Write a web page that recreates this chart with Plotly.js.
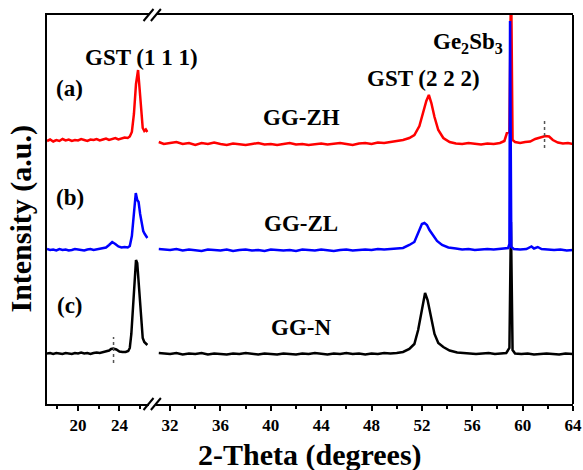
<!DOCTYPE html>
<html>
<head>
<meta charset="utf-8">
<script src="https://cdn.plot.ly/plotly-3.0.1.min.js"></script>
<style>html,body{margin:0;padding:0;background:#fff;}#chart{width:583px;height:470px;}</style>
</head>
<body>
<div id="chart"></div>
<script>
// ---------- DATA (2-theta in degrees, intensity in arbitrary units) ----------
// GG-ZH (a), red
const redLX = [17.0,17.3,17.6,17.9,18.2,18.5,18.8,19.1,19.4,19.7,20.0,20.3,20.6,20.9,21.2,21.5,21.8,22.1,22.4,22.7,23.0,23.3,23.6,23.9,24.2,24.5,24.8,25.0,25.2,25.4,25.6,25.8,25.95,26.1,26.25,26.4,26.55,26.7];
const redLY = [2630,2645,2625,2640,2630,2650,2635,2645,2630,2640,2635,2650,2640,2630,2645,2640,2650,2635,2645,2655,2640,2650,2660,2645,2655,2665,2660,2675,2720,2900,3200,3340,3150,2900,2760,2730,2745,2720];
const redRX = [31.1,31.5,32.0,32.5,33.0,33.5,34.0,34.5,35.0,35.5,36.0,36.5,37.0,37.5,38.0,38.5,39.0,39.5,40.0,40.5,41.0,41.5,42.0,42.5,43.0,43.5,44.0,44.5,45.0,45.5,46.0,46.5,47.0,47.5,48.0,48.5,49.0,49.5,50.0,50.5,51.0,51.4,51.8,52.1,52.35,52.55,52.75,53.0,53.3,53.7,54.2,54.7,55.2,55.7,56.2,56.7,57.2,57.7,58.2,58.55,58.75,58.95,59.08,59.2,59.4,59.8,60.2,60.6,61.0,61.4,61.8,62.1,62.4,62.8,63.2,63.6,64.0];
const redRY = [2620,2600,2610,2620,2600,2610,2590,2610,2600,2615,2600,2590,2605,2600,2590,2600,2610,2595,2600,2590,2600,2610,2595,2600,2590,2600,2605,2595,2600,2610,2600,2590,2605,2610,2600,2615,2610,2620,2625,2640,2660,2690,2780,2930,3030,3090,3010,2870,2740,2660,2620,2605,2600,2610,2600,2595,2605,2600,2610,2630,2710,2720,4300,2640,2620,2610,2620,2625,2650,2665,2680,2675,2640,2615,2605,2610,2600];

// GG-ZL (b), blue
const blueLX = [17.0,17.3,17.6,17.9,18.2,18.5,18.8,19.1,19.4,19.7,20.0,20.3,20.6,20.9,21.2,21.5,21.8,22.1,22.4,22.7,23.0,23.3,23.6,23.9,24.2,24.5,24.8,25.0,25.2,25.4,25.58,25.72,25.85,26.0,26.15,26.3,26.45,26.6,26.7];
const blueLY = [1550,1540,1545,1535,1550,1540,1545,1535,1540,1550,1545,1540,1535,1545,1550,1540,1545,1550,1555,1565,1590,1620,1600,1575,1565,1570,1565,1580,1680,1920,2110,2040,2020,1900,1790,1730,1700,1670,1660];
const blueRX = [31.1,31.5,32.0,32.5,33.0,33.5,34.0,34.5,35.0,35.5,36.0,36.5,37.0,37.5,38.0,38.5,39.0,39.5,40.0,40.5,41.0,41.5,42.0,42.5,43.0,43.5,44.0,44.5,45.0,45.5,46.0,46.5,47.0,47.5,48.0,48.5,49.0,49.5,50.0,50.5,51.0,51.4,51.8,52.0,52.2,52.4,52.6,52.9,53.2,53.6,54.1,54.7,55.2,55.7,56.2,56.7,57.2,57.7,58.2,58.6,58.85,58.95,59.0,59.1,59.3,59.8,60.3,60.7,60.9,61.2,61.5,62.0,62.5,63.0,63.5,64.0];
const blueRY = [1550,1545,1540,1550,1535,1545,1540,1530,1545,1540,1535,1545,1530,1540,1545,1535,1540,1530,1545,1540,1535,1540,1530,1545,1540,1535,1545,1540,1530,1540,1545,1535,1540,1545,1540,1550,1545,1550,1555,1560,1590,1620,1740,1800,1810,1790,1740,1690,1630,1590,1565,1555,1545,1550,1540,1545,1550,1545,1550,1555,1560,1600,3830,1570,1550,1545,1550,1575,1555,1570,1550,1545,1540,1545,1535,1540];

// GG-N (c), black
const blackLX = [17.0,17.3,17.6,17.9,18.2,18.5,18.8,19.1,19.4,19.7,20.0,20.3,20.6,20.9,21.2,21.5,21.8,22.1,22.4,22.7,23.0,23.2,23.4,23.7,24.0,24.3,24.6,24.85,25.0,25.15,25.3,25.45,25.6,25.72,25.85,25.98,26.1,26.25,26.4,26.55,26.7];
const blackLY = [505,510,500,510,505,500,510,505,500,510,505,515,505,510,500,510,515,510,520,525,535,550,555,545,525,520,520,530,560,700,980,1280,1440,1410,1220,960,780,660,620,600,590];
const blackRX = [31.1,31.5,32.0,32.5,33.0,33.5,34.0,34.5,35.0,35.5,36.0,36.5,37.0,37.5,38.0,38.5,39.0,39.5,40.0,40.5,41.0,41.5,42.0,42.5,43.0,43.5,44.0,44.5,45.0,45.5,46.0,46.5,47.0,47.5,48.0,48.5,49.0,49.5,50.0,50.5,51.0,51.4,51.7,52.0,52.25,52.45,52.7,53.0,53.3,53.7,54.2,54.8,55.3,55.8,56.3,56.8,57.3,57.8,58.3,58.7,58.95,59.07,59.2,59.4,59.9,60.4,60.9,61.4,61.9,62.4,62.9,63.4,64.0];
const blackRY = [510,505,500,510,495,505,500,510,495,505,500,495,505,500,510,500,495,505,500,495,505,500,495,505,500,510,500,495,505,500,510,500,505,495,505,500,510,505,510,520,550,600,740,950,1110,1040,880,700,610,570,535,515,510,505,500,505,510,500,505,510,560,1820,540,505,500,505,495,500,505,500,495,505,500];

// dotted markers of weak reflections
const markLX = [23.43, 23.43];
const markLY = [410, 670];
const markRX = [61.74, 61.74];
const markRY = [2560, 2830];

// tick labels
const leftTicks = [20, 24];
const rightTicks = [32, 36, 40, 44, 48, 52, 56, 60, 64];

// ---------- CHART ----------
const FONT = 'Liberation Serif, Times New Roman, serif';
function line(x, y, color, xa) {
  return {x: x, y: y, type: 'scatter', mode: 'lines', xaxis: xa, yaxis: 'y',
          line: {color: color, width: 2.5}, hoverinfo: 'skip', showlegend: false};
}
const traces = [
  line(blackLX, blackLY, '#000000', 'x'),
  line(blackRX, blackRY, '#000000', 'x2'),
  line(redLX, redLY, '#ff0000', 'x'),
  line(redRX, redRY, '#ff0000', 'x2'),
  line(blueLX, blueLY, '#0000ff', 'x'),
  line(blueRX, blueRY, '#0000ff', 'x2'),
  {x: markLX, y: markLY, type: 'scatter', mode: 'lines', xaxis: 'x', yaxis: 'y',
   line: {color: '#555555', width: 1.5, dash: 'dot'}, hoverinfo: 'skip', showlegend: false},
  {x: markRX, y: markRY, type: 'scatter', mode: 'lines', xaxis: 'x2', yaxis: 'y',
   line: {color: '#555555', width: 1.5, dash: 'dot'}, hoverinfo: 'skip', showlegend: false}
];

const axisStyle = {
  showline: true, linewidth: 2, linecolor: '#000', mirror: true,
  ticks: 'outside', ticklen: 5, tickwidth: 2, tickcolor: '#000',
  showgrid: false, zeroline: false,
  tickfont: {family: FONT, size: 17, color: '#000', weight: 'bold'},
  minor: {dtick: 2, ticks: 'outside', ticklen: 3, tickwidth: 2, tickcolor: '#000', showgrid: false}
};

const labFont = {family: FONT, size: 23, color: '#000', weight: 'bold'};
function ann(text, x, y, xref, extra) {
  return Object.assign({text: text, x: x, y: y, xref: xref, yref: 'y', showarrow: false,
    xanchor: 'center', yanchor: 'middle', font: labFont}, extra || {});
}

const slash = (xp, yp) => ({type: 'line', xref: 'paper', yref: 'paper',
  xsizemode: 'pixel', ysizemode: 'pixel', xanchor: xp, yanchor: yp,
  x0: -5, x1: 5, y0: -6, y1: 6, line: {color: '#000', width: 2}});

const layout = {
  width: 583, height: 470,
  margin: {l: 47, r: 10, t: 15, b: 66, pad: 0},
  paper_bgcolor: '#fff', plot_bgcolor: '#fff',
  showlegend: false,
  font: {family: FONT, color: '#000'},
  xaxis: Object.assign({}, axisStyle, {domain: [0, 0.193], range: [17, 26.81], anchor: 'y',
    tickmode: 'array', tickvals: leftTicks, ticktext: leftTicks.map(String),
    minor: Object.assign({}, axisStyle.minor, {tickmode: 'array', tickvals: [18, 22, 26]})}),
  xaxis2: Object.assign({}, axisStyle, {domain: [0.207, 1], range: [30.87, 64], anchor: 'y',
    tickmode: 'array', tickvals: rightTicks, ticktext: rightTicks.map(String),
    minor: Object.assign({}, axisStyle.minor, {tickmode: 'array', tickvals: [34, 38, 42, 46, 50, 54, 58, 62]})}),
  yaxis: {range: [0, 3890], showline: true, linewidth: 2, linecolor: '#000',
    ticks: '', showticklabels: false, showgrid: false, zeroline: false},
  shapes: [
    {type: 'line', xref: 'paper', yref: 'paper', x0: 1, x1: 1, y0: 0, y1: 1, line: {color: '#000', width: 2}},
    slash(0.193, 0), slash(0.207, 0), slash(0.193, 1), slash(0.207, 1)
  ],
  annotations: [
    ann('GST (1 1 1)', 26.13, 3470, 'x'),
    ann('(a)', 19.22, 3160, 'x'),
    ann('(b)', 19.22, 2070, 'x'),
    ann('(c)', 19.22, 990, 'x'),
    ann('GG-ZH', 42.4, 2870, 'x2'),
    ann('GG-ZL', 42.4, 1810, 'x2'),
    ann('GG-N', 42.4, 770, 'x2'),
    ann('GST (2 2 2)', 52.09, 3260, 'x2'),
    ann('Ge<sub>2</sub>Sb<sub>3</sub>', 55.66, 3610, 'x2'),
    {text: '2-Theta (degrees)', xref: 'paper', yref: 'paper', x: 0.5, y: -0.131,
     showarrow: false, xanchor: 'center', yanchor: 'middle',
     font: {family: FONT, size: 30, color: '#000', weight: 'bold'}},
    {text: 'Intensity (a.u.)', xref: 'paper', yref: 'paper', x: -0.0485, y: 0.478,
     showarrow: false, xanchor: 'center', yanchor: 'middle', textangle: -90,
     font: {family: FONT, size: 30, color: '#000', weight: 'bold'}}
  ]
};

Plotly.newPlot('chart', traces, layout, {staticPlot: true, displayModeBar: false});
</script>
</body>
</html>
